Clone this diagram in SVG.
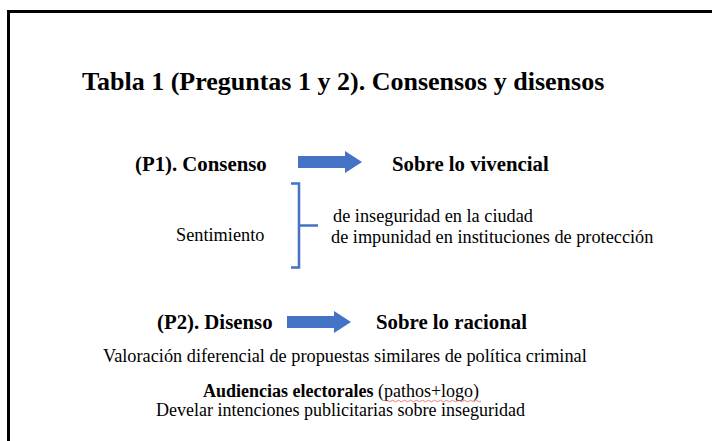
<svg xmlns="http://www.w3.org/2000/svg" width="712" height="441" viewBox="0 0 712 441">
<style>
.t{font-size:26px;font-weight:bold}
.h{font-size:20.8px;font-weight:bold}
.r{font-size:18.3px}
.s{font-size:18px}
.arrow{fill:#4472C4}
.br{fill:none;stroke:#4472C4;stroke-width:2.5}
</style>
<rect x="0" y="0" width="712" height="441" fill="#fff"/>
<path d="M8.5,441 V11.5 H712" fill="none" stroke="#000" stroke-width="3"/>
<g font-family="'Liberation Serif', 'Times New Roman', serif" fill="#000">
<g id="title"><text class="t" x="82" y="90">Tabla 1 (Preguntas 1 y 2). Consensos y disensos</text></g>
<g id="p1"><text class="h" x="135" y="171">(P1). Consenso</text></g>
<g id="vivencial"><text class="h" x="392" y="171">Sobre lo vivencial</text></g>
<g id="sentimiento"><text class="r" x="176" y="241">Sentimiento</text></g>
<g id="items1">
<text class="r" x="333" y="222">de inseguridad en la ciudad</text>
<text class="r" x="331" y="243">de impunidad en instituciones de protección</text>
</g>
<g id="p2"><text class="h" x="157" y="329">(P2). Disenso</text></g>
<g id="racional"><text class="h" x="376" y="329">Sobre lo racional</text></g>
<g id="valoracion"><text class="r" x="103" y="362">Valoración diferencial de propuestas similares de política criminal</text></g>
<g id="audiencias">
<text class="s" x="203" y="397"><tspan font-weight="bold">Audiencias electorales</tspan> (pathos+logo)</text>
<path d="M385,401 q1.5,-1.5 3,0 t3,0 t3,0 t3,0 t3,0 t3,0 t3,0 t3,0 t3,0 t3,0 t3,0 t3,0 t3,0 t3,0 t3,0 t3,0 t3,0 t3,0 t3,0 t3,0 t3,0 t3,0 t3,0 t3,0 t3,0 t3,0 t3,0 t3,0 t3,0 t3,0 t3,0 t3,0" fill="none" stroke="#e06060" stroke-width="0.8"/>
<text class="s" x="156" y="416">Develar intenciones publicitarias sobre inseguridad</text>
</g>
</g>
<g id="connectors">
<polygon class="arrow" points="298,156 345,156 345,151 362,162 345,173 345,168 298,168"/>
<polygon class="arrow" points="287,316 334,316 334,311 351,322 334,333 334,328 287,328"/>
<path class="br" d="M291,183.5 H299 V267.5 H291 M299,225.5 H318"/>
</g>
</svg>
